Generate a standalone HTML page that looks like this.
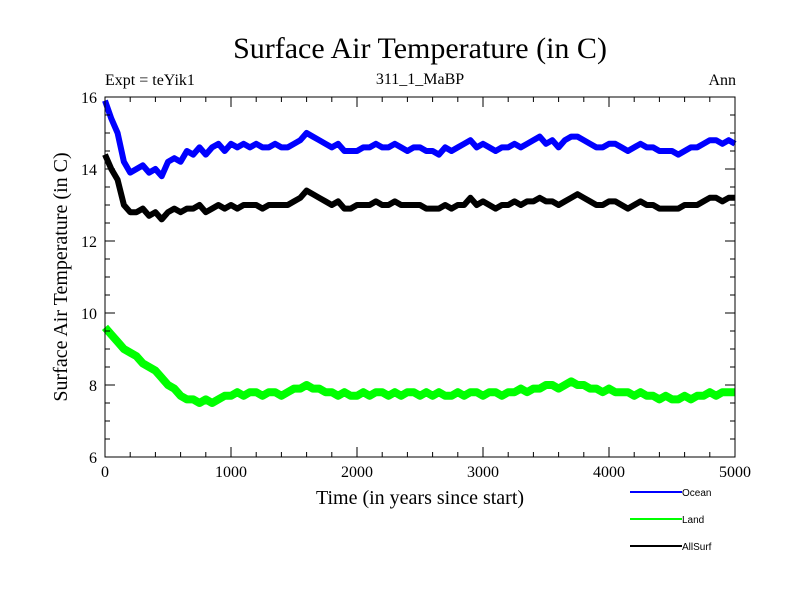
<!DOCTYPE html>
<html><head><meta charset="utf-8"><style>
body{margin:0;background:#fff}
svg text{font-family:"Liberation Serif",serif}
</style></head><body>
<svg id="c" width="800" height="600">
<text x="420" y="58" font-size="30" text-anchor="middle">Surface Air Temperature (in C)</text>
<text x="105" y="85" font-size="16">Expt = teYik1</text>
<text x="420" y="84" font-size="16" text-anchor="middle">311_1_MaBP</text>
<text x="736" y="85" font-size="16" text-anchor="end">Ann</text>
<text x="420" y="504" font-size="20" text-anchor="middle">Time (in years since start)</text>
<text transform="translate(67,277) rotate(-90)" font-size="20" text-anchor="middle">Surface Air Temperature (in C)</text>
<g id="series"></g>
<g id="axes"></g>
<g font-family="Liberation Sans" font-size="10">
<line x1="630" y1="492" x2="682" y2="492" stroke="#0000ff" stroke-width="2"/>
<text x="682" y="496" style="font-family:'Liberation Sans',sans-serif" font-size="10">Ocean</text>
<line x1="630" y1="519" x2="682" y2="519" stroke="#00ff00" stroke-width="2"/>
<text x="682" y="523" style="font-family:'Liberation Sans',sans-serif" font-size="10">Land</text>
<line x1="630" y1="546" x2="682" y2="546" stroke="#000" stroke-width="2"/>
<text x="682" y="550" style="font-family:'Liberation Sans',sans-serif" font-size="10">AllSurf</text>
</g>
</svg>
<script>
const xTicks=[0,1000,2000,3000,4000,5000];
const yTicks=[6,8,10,12,14,16];
const step=50;
const ocean=[15.9,15.4,15.0,14.2,13.9,14.0,14.1,13.9,14.0,13.8,14.2,14.3,14.2,14.5,14.4,14.6,14.4,14.6,14.7,14.5,14.7,14.6,14.7,14.6,14.7,14.6,14.6,14.7,14.6,14.6,14.7,14.8,15.0,14.9,14.8,14.7,14.6,14.7,14.5,14.5,14.5,14.6,14.6,14.7,14.6,14.6,14.7,14.6,14.5,14.6,14.6,14.5,14.5,14.4,14.6,14.5,14.6,14.7,14.8,14.6,14.7,14.6,14.5,14.6,14.6,14.7,14.6,14.7,14.8,14.9,14.7,14.8,14.6,14.8,14.9,14.9,14.8,14.7,14.6,14.6,14.7,14.7,14.6,14.5,14.6,14.7,14.6,14.6,14.5,14.5,14.5,14.4,14.5,14.6,14.6,14.7,14.8,14.8,14.7,14.8,14.7];
const land=[9.6,9.4,9.2,9.0,8.9,8.8,8.6,8.5,8.4,8.2,8.0,7.9,7.7,7.6,7.6,7.5,7.6,7.5,7.6,7.7,7.7,7.8,7.7,7.8,7.8,7.7,7.8,7.8,7.7,7.8,7.9,7.9,8.0,7.9,7.9,7.8,7.8,7.7,7.8,7.7,7.7,7.8,7.7,7.8,7.8,7.7,7.8,7.7,7.8,7.8,7.7,7.8,7.7,7.8,7.7,7.7,7.8,7.7,7.8,7.8,7.7,7.8,7.8,7.7,7.8,7.8,7.9,7.8,7.9,7.9,8.0,8.0,7.9,8.0,8.1,8.0,8.0,7.9,7.9,7.8,7.9,7.8,7.8,7.8,7.7,7.8,7.7,7.7,7.6,7.7,7.6,7.6,7.7,7.6,7.7,7.7,7.8,7.7,7.8,7.8,7.8];
const allsurf=[14.4,14.0,13.7,13.0,12.8,12.8,12.9,12.7,12.8,12.6,12.8,12.9,12.8,12.9,12.9,13.0,12.8,12.9,13.0,12.9,13.0,12.9,13.0,13.0,13.0,12.9,13.0,13.0,13.0,13.0,13.1,13.2,13.4,13.3,13.2,13.1,13.0,13.1,12.9,12.9,13.0,13.0,13.0,13.1,13.0,13.0,13.1,13.0,13.0,13.0,13.0,12.9,12.9,12.9,13.0,12.9,13.0,13.0,13.2,13.0,13.1,13.0,12.9,13.0,13.0,13.1,13.0,13.1,13.1,13.2,13.1,13.1,13.0,13.1,13.2,13.3,13.2,13.1,13.0,13.0,13.1,13.1,13.0,12.9,13.0,13.1,13.0,13.0,12.9,12.9,12.9,12.9,13.0,13.0,13.0,13.1,13.2,13.2,13.1,13.2,13.2];
const X0=105,X1=735,Y0=457,Y1=97;
const xs=v=>X0+(v-0)/5000*(X1-X0);
const ys=v=>Y0-(v-6)/10*(Y0-Y1);
const NS="http://www.w3.org/2000/svg";
const sg=document.getElementById('series'), ag=document.getElementById('axes');
function mk(tag,at,par){const e=document.createElementNS(NS,tag);for(const k in at)e.setAttribute(k,at[k]);par.appendChild(e);return e;}
[[land,'#00ff00','series-land',8],[ocean,'#0000ff','series-ocean',6],[allsurf,'#000000','series-allsurf',6]].forEach(([d,c,n,w])=>{
  const p=mk('polyline',{points:d.map((v,i)=>xs(i*step)+','+ys(v)).join(' '),fill:'none',stroke:c,'stroke-width':w,'stroke-linejoin':'round'},sg);
  
  
});
const fr=mk('rect',{x:X0,y:Y1,width:X1-X0,height:Y0-Y1,fill:'none',stroke:'#000','stroke-width':1},ag);


for(let v=0;v<=5000;v+=200){const m=v%1000===0,L=m?10:5;
  mk('line',{x1:xs(v),x2:xs(v),y1:Y0,y2:Y0-L,stroke:'#000'},ag);
  mk('line',{x1:xs(v),x2:xs(v),y1:Y1,y2:Y1+L,stroke:'#000'},ag);}
for(let v=6;v<=16;v+=0.5){const m=v%2===0,L=m?10:5;
  mk('line',{x1:X0,x2:X0+L,y1:ys(v),y2:ys(v),stroke:'#000'},ag);
  mk('line',{x1:X1,x2:X1-L,y1:ys(v),y2:ys(v),stroke:'#000'},ag);}
xTicks.forEach(v=>{const t=mk('text',{x:xs(v),y:Y0+20,'font-size':16,'text-anchor':'middle'},ag);t.textContent=v;
  
  });
yTicks.forEach(v=>{const t=mk('text',{x:X0-8,y:ys(v)+6,'font-size':16,'text-anchor':'end'},ag);t.textContent=v;
  
  });
</script>
</body></html>
